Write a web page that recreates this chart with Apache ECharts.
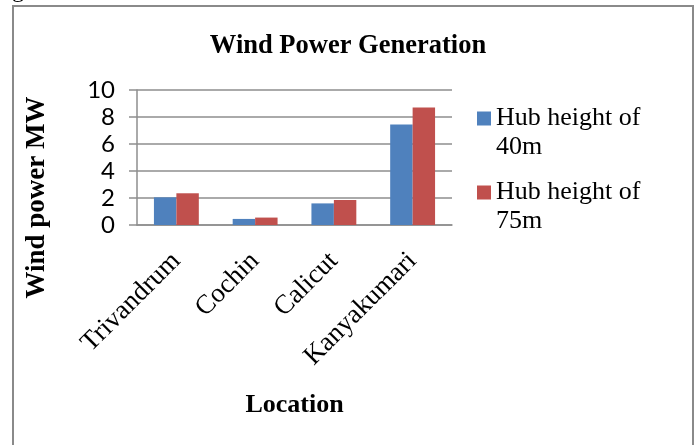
<!DOCTYPE html>
<html>
<head>
<meta charset="utf-8">
<script src="https://cdn.jsdelivr.net/npm/echarts@6/dist/echarts.min.js"></script>
<style>
  html, body { margin: 0; padding: 0; background: #fff; }
  #chart { width: 696px; height: 445px; }
</style>
</head>
<body>
<div id="chart"></div>
<script>
// Wind power output per site for two hub heights (MW)
const locations = ['Trivandrum', 'Cochin', 'Calicut', 'Kanyakumari'];
const hub40 = [2.05, 0.45, 1.6, 7.45];
const hub75 = [2.35, 0.55, 1.85, 8.7];
const seriesNames = ['Hub height of 40m', 'Hub height of 75m'];
const yTicks = { min: 0, max: 10, interval: 2 };

const serif = '"Liberation Serif", "Times New Roman", serif';
const gridGray = '#8e8e8e';

const chart = echarts.init(document.getElementById('chart'), null, { renderer: 'canvas' });

chart.setOption({
  backgroundColor: '#ffffff',
  animation: false,
  color: ['#4F81BD', '#C0504D'],
  title: {
    text: 'Wind Power Generation',
    left: 'center',
    top: 28,
    textStyle: { fontFamily: serif, fontSize: 26.5, fontWeight: 'bold', color: '#000' }
  },
  legend: {
    orient: 'vertical',
    left: 472,
    top: 70,
    itemWidth: 14,
    itemHeight: 14,
    itemGap: -13,
    icon: 'rect',
    // leading blank line keeps the swatch level with the first text line
    formatter: name => '\n' + name.replace(' of ', ' of\n'),
    textStyle: { fontFamily: serif, fontSize: 26, color: '#000', lineHeight: 29 }
  },
  grid: { left: 137, right: 244, top: 90, bottom: 220, containLabel: false },
  xAxis: {
    type: 'category',
    data: locations,
    axisLine: { show: true, lineStyle: { color: gridGray, width: 1.5 } },
    axisTick: { show: false },
    axisLabel: {
      rotate: 45, margin: 32, interval: 0,
      fontFamily: serif, fontSize: 27, color: '#000'
    },
    name: 'Location',
    nameLocation: 'middle',
    nameGap: 167,
    nameTextStyle: { fontFamily: serif, fontSize: 26, fontWeight: 'bold', color: '#000' }
  },
  yAxis: {
    type: 'value',
    min: yTicks.min,
    max: yTicks.max,
    interval: yTicks.interval,
    axisLine: { show: true, lineStyle: { color: gridGray, width: 1.5 } },
    axisTick: { show: true, length: 8, lineStyle: { color: gridGray, width: 1.5 } },
    splitLine: { show: true, lineStyle: { color: gridGray, width: 1.5 } },
    axisLabel: { margin: 22, fontFamily: 'Lato, "Noto Sans", sans-serif', fontSize: 24, color: '#000' },
    name: 'Wind power MW',
    nameLocation: 'middle',
    nameGap: 86,
    nameTextStyle: {
      fontFamily: serif, fontSize: 27, fontWeight: 'bold', color: '#000',
      padding: [0, 80, 0, 0]
    }
  },
  series: [
    { name: seriesNames[0], type: 'bar', data: hub40, barGap: '0%', barCategoryGap: '43%' },
    { name: seriesNames[1], type: 'bar', data: hub75, barGap: '0%', barCategoryGap: '43%' }
  ],
  graphic: [
    {
      type: 'rect',
      shape: { x: 13, y: 6, width: 680, height: 460 },
      style: { fill: 'none', stroke: '#8a8a8a', lineWidth: 2 },
      silent: true
    },
    {
      type: 'text',
      left: 12, top: -21,
      style: { text: 'g', font: '24px ' + serif, fill: '#000' },
      silent: true
    }
  ]
});
</script>
</body>
</html>
